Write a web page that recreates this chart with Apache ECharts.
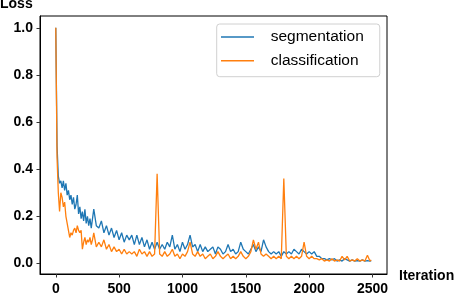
<!DOCTYPE html>
<html>
<head>
<meta charset="utf-8">
<script src="https://cdn.jsdelivr.net/npm/echarts@6/dist/echarts.min.js"></script>
<style>html,body{margin:0;padding:0;background:#fff}#c{width:454px;height:294px}</style>
</head>
<body>
<div id="c"></div>
<script>
var iterations = [0,10,20,30,40,50,60,70,80,90,100,110,120,130,140,150,160,170,180,190,200,210,220,230,240,250,260,270,280,290,300,
320,340,360,380,400,420,440,460,480,500,520,540,560,580,600,620,640,660,680,700,720,740,760,780,800,820,840,860,880,900,920,940,960,980,1000,
1020,1040,1060,1080,1100,1120,1140,1160,1180,1200,1220,1240,1260,1280,1300,1320,1340,1360,1380,1400,1420,1440,1460,1480,1500,
1520,1540,1560,1580,1600,1620,1640,1660,1680,1700,1720,1740,1760,1780,1800,1820,1840,1860,1880,1900,1920,1940,1960,1980,2000,
2020,2040,2060,2080,2100,2120,2140,2160,2180,2200,2220,2240,2260,2280,2300,2320,2340,2360,2380,2400,2420,2440,2460,2480,2490];

var segmentation = [1.0,0.50,0.37,0.34,0.35,0.32,0.35,0.31,0.34,0.29,0.31,0.27,0.29,0.25,0.28,0.23,0.25,0.29,0.21,0.24,0.19,0.22,0.18,0.23,0.17,0.20,0.16,0.19,0.15,0.19,0.23,
0.16,0.15,0.18,0.13,0.16,0.12,0.15,0.11,0.14,0.10,0.13,0.09,0.12,0.10,0.12,0.08,0.12,0.08,0.11,0.07,0.10,0.06,0.09,0.06,0.09,0.06,0.08,0.06,0.09,0.07,0.12,0.06,0.08,0.05,0.09,
0.06,0.08,0.12,0.07,0.08,0.05,0.08,0.05,0.07,0.05,0.06,0.07,0.04,0.07,0.06,0.04,0.05,0.08,0.05,0.06,0.04,0.05,0.09,0.06,0.05,
0.04,0.06,0.08,0.05,0.07,0.05,0.10,0.07,0.05,0.04,0.05,0.04,0.05,0.03,0.05,0.04,0.05,0.04,0.06,0.05,0.04,0.06,0.05,0.04,0.05,
0.04,0.05,0.03,0.03,0.02,0.02,0.015,0.02,0.015,0.02,0.01,0.015,0.01,0.02,0.015,0.01,0.015,0.01,0.012,0.01,0.015,0.01,0.012,0.01,0.012];

var classification = [1.0,0.45,0.30,0.22,0.30,0.28,0.24,0.26,0.20,0.17,0.14,0.11,0.13,0.12,0.14,0.15,0.13,0.16,0.14,0.13,0.14,0.06,0.09,0.11,0.08,0.10,0.09,0.11,0.08,0.10,0.13,
0.07,0.09,0.07,0.10,0.06,0.08,0.05,0.07,0.05,0.06,0.04,0.06,0.04,0.05,0.04,0.05,0.03,0.06,0.04,0.05,0.03,0.05,0.03,0.04,0.38,0.04,0.03,0.05,0.03,0.04,0.06,0.03,0.04,0.02,0.04,
0.03,0.05,0.09,0.04,0.03,0.05,0.03,0.04,0.02,0.03,0.04,0.02,0.03,0.05,0.03,0.02,0.03,0.04,0.02,0.03,0.02,0.03,0.05,0.03,0.02,
0.03,0.05,0.10,0.06,0.09,0.04,0.03,0.04,0.03,0.02,0.03,0.02,0.03,0.02,0.36,0.03,0.02,0.03,0.02,0.03,0.02,0.03,0.09,0.03,0.02,
0.03,0.02,0.02,0.015,0.02,0.01,0.015,0.01,0.02,0.01,0.015,0.01,0.03,0.015,0.03,0.01,0.015,0.01,0.02,0.01,0.015,0.01,0.035,0.01,0.015];

var xTicks = [0,500,1000,1500,2000,2500];
var yTicks = [0,0.2,0.4,0.6,0.8,1.0];
var seriesNames = ['segmentation','classification'];

function pairs(xs, ys){ return xs.map(function(x,i){ return [x, ys[i]]; }); }

var font = '"Liberation Sans", Arial, sans-serif';
var chart = echarts.init(document.getElementById('c'), null, {renderer:'canvas'});
chart.setOption({
  animation: false,
  backgroundColor: '#fff',
  grid: {left: 40, right: 67, top: 16, bottom: 20, show: true, borderColor: '#000', borderWidth: 1,
         backgroundColor: 'transparent', containLabel: false, outerBoundsMode: 'none'},
  xAxis: {
    type: 'value', min: -124.5, max: 2614.5,
    splitLine: {show: false},
    axisLine: {show: true, onZero: false, lineStyle: {color: '#000', width: 1}},
    axisTick: {show: true, length: 3.5, lineStyle: {color: '#333'}, customValues: xTicks},
    axisLabel: {customValues: xTicks, margin: 8, color: '#000', fontWeight: 'bold', fontSize: 14, fontFamily: font,
      formatter: function(v){ return String(v); }}
  },
  yAxis: {
    type: 'value', min: -0.045, max: 1.05,
    splitLine: {show: false},
    axisLine: {show: true, onZero: false, lineStyle: {color: '#000', width: 1}},
    axisTick: {show: true, length: 3.5, lineStyle: {color: '#333'}, customValues: yTicks},
    axisLabel: {customValues: yTicks, margin: 7, color: '#000', fontWeight: 'bold', fontSize: 14, fontFamily: font,
      formatter: function(v){ return v.toFixed(1); }}
  },
  legend: {
    orient: 'vertical', left: 216.7, top: 24,
    data: seriesNames,
    icon: 'rect', itemWidth: 33, itemHeight: 1.5, itemGap: 7.7,
    padding: [5, 16, 8, 4.3],
    borderColor: '#d0d0d0', borderWidth: 1, borderRadius: 3, backgroundColor: '#fff',
    textStyle: {fontSize: 15.5, fontFamily: font, color: '#000', lineHeight: 16, padding: [0,0,0,11.7]}
  },
  graphic: [
    {type: 'text', left: 0, top: -3, style: {text: 'Loss', font: 'bold 14px "Liberation Sans", Arial, sans-serif', fill: '#000'}},
    {type: 'text', left: 399, top: 269, style: {text: 'Iteration', font: 'bold 14px "Liberation Sans", Arial, sans-serif', fill: '#000'}}
  ],
  series: [
    {name: seriesNames[0], type: 'line', data: pairs(iterations, segmentation), showSymbol: false, symbol: 'none',
     lineStyle: {color: '#1f77b4', width: 1.3}, itemStyle: {color: '#1f77b4'}},
    {name: seriesNames[1], type: 'line', data: pairs(iterations, classification), showSymbol: false, symbol: 'none',
     lineStyle: {color: '#ff7f0e', width: 1.3}, itemStyle: {color: '#ff7f0e'}}
  ]
});
</script>
</body>
</html>
